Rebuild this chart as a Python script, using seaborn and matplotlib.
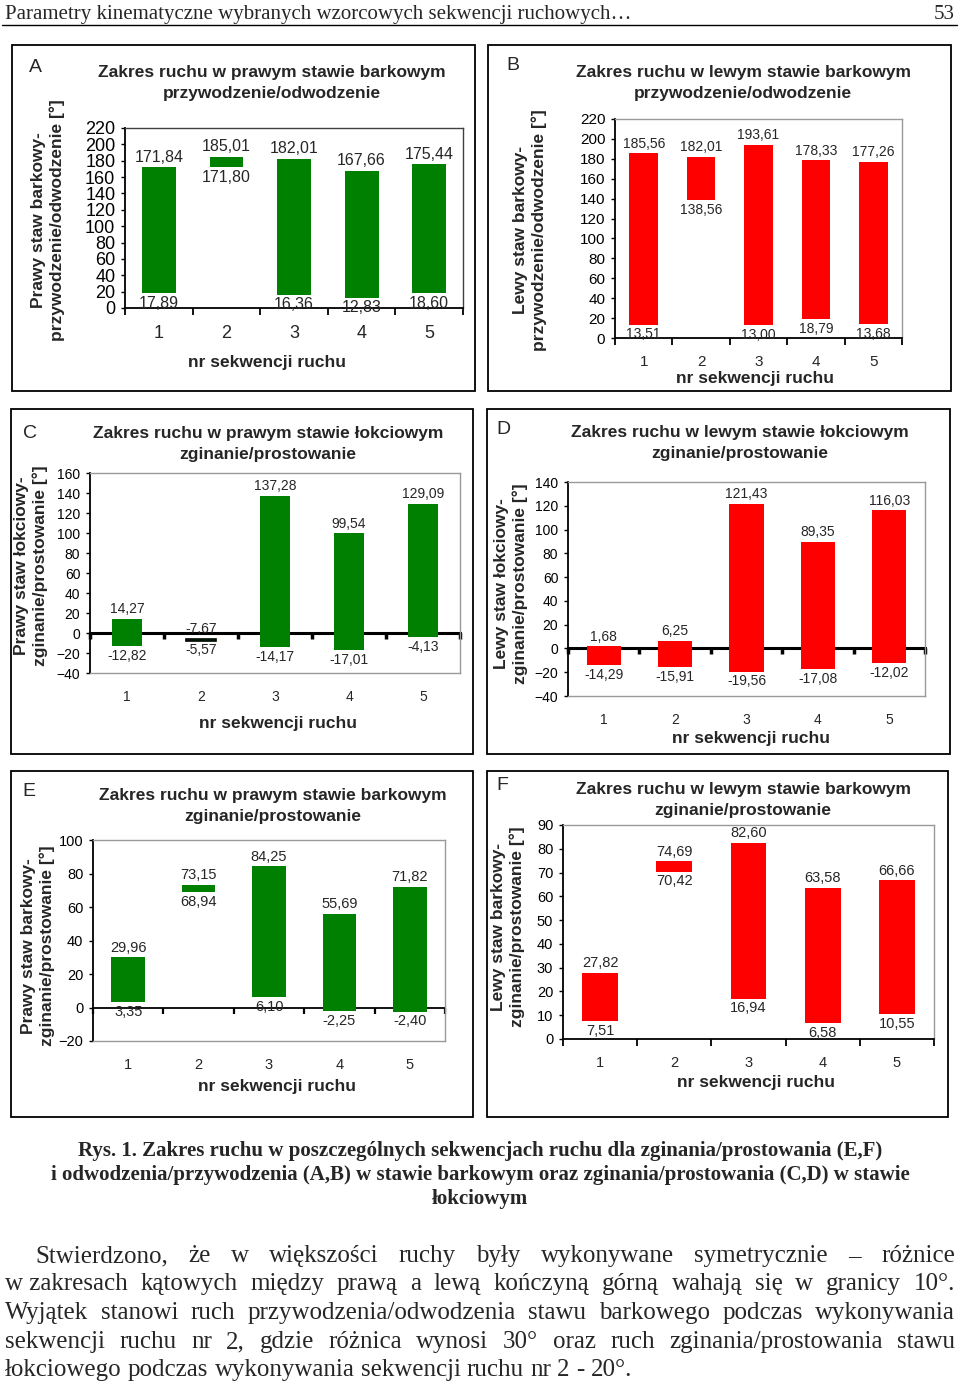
import numpy as np
import matplotlib
matplotlib.use("Agg")
import matplotlib.pyplot as plt
import seaborn as sns
from matplotlib.patches import Rectangle

# ---- data ----
seq = ["1", "2", "3", "4", "5"]

a_hi = [171.84, 185.01, 182.01, 167.66, 175.44]
a_lo = [17.89, 171.80, 16.36, 12.83, 18.60]
b_hi = [185.56, 182.01, 193.61, 178.33, 177.26]
b_lo = [13.51, 138.56, 13.00, 18.79, 13.68]
c_hi = [14.27, -7.67, 137.28, 99.54, 129.09]
c_lo = [-12.82, -5.57, -14.17, -17.01, -4.13]
d_hi = [1.68, 6.25, 121.43, 89.35, 116.03]
d_lo = [-14.29, -15.91, -19.56, -17.08, -12.02]
e_hi = [29.96, 73.15, 84.25, 55.69, 71.82]
e_lo = [3.35, 68.94, 6.10, -2.25, -2.40]
f_hi = [27.82, 74.69, 82.60, 63.58, 66.66]
f_lo = [7.51, 70.42, 16.94, 6.58, 10.55]

titles = {
    "A": "Zakres ruchu w prawym stawie barkowym\nprzywodzenie/odwodzenie",
    "B": "Zakres ruchu w lewym stawie barkowym\nprzywodzenie/odwodzenie",
    "C": "Zakres ruchu w prawym stawie łokciowym\nzginanie/prostowanie",
    "D": "Zakres ruchu w lewym stawie łokciowym\nzginanie/prostowanie",
    "E": "Zakres ruchu w prawym stawie barkowym\nzginanie/prostowanie",
    "F": "Zakres ruchu w lewym stawie barkowym\nzginanie/prostowanie",
}
ylabels = {
    "A": "Prawy staw barkowy-\nprzywodzenie/odwodzenie [°]",
    "B": "Lewy staw barkowy-\nprzywodzenie/odwodzenie [°]",
    "C": "Prawy staw łokciowy-\nzginanie/prostowanie [°]",
    "D": "Lewy staw łokciowy-\nzginanie/prostowanie [°]",
    "E": "Prawy staw barkowy-\nzginanie/prostowanie [°]",
    "F": "Lewy staw barkowy-\nzginanie/prostowanie [°]",
}
xlabel = "nr sekwencji ruchu"

header = "Parametry kinematyczne wybranych wzorcowych sekwencji ruchowych…"
page_no = "53"
caption = ["Rys. 1. Zakres ruchu w poszczególnych sekwencjach ruchu dla zginania/prostowania (E,F)",
           "i odwodzenia/przywodzenia (A,B) w stawie barkowym oraz zginania/prostowania (C,D) w stawie",
           "łokciowym"]
paragraph = ["Stwierdzono, że w większości ruchy były wykonywane symetrycznie – różnice",
             "w\u00a0zakresach kątowych między prawą a lewą kończyną górną wahają się w granicy 10°.",
             "Wyjątek stanowi ruch przywodzenia/odwodzenia stawu barkowego podczas wykonywania",
             "sekwencji ruchu nr 2, gdzie różnica wynosi 30° oraz ruch zginania/prostowania stawu",
             "łokciowego podczas wykonywania sekwencji ruchu nr 2 - 20°."]

GREEN = "#008000"
RED = "#ff0000"

# ---- layout (pixels on the 960x1384 page) ----
panels = [
    dict(key="A", hi=a_hi, lo=a_lo, color=GREEN, ylim=(0, 220), step=20, width=0.5,
         frame=(12, 45, 475, 391), axes=(125, 128, 463, 308), letter=(35, 68),
         title=(272, 83), xl=(267, 362), yl=(48, 220), tfs=13, vfs=11.5, box="#404040"),
    dict(key="B", hi=b_hi, lo=b_lo, color=RED, ylim=(0, 220), step=20, width=0.5,
         frame=(488, 45, 951, 391), axes=(615, 119, 902, 338), letter=(513, 66),
         title=(743, 83), xl=(755, 378), yl=(530, 230), tfs=11, vfs=10, box="#999999"),
    dict(key="C", hi=c_hi, lo=c_lo, color=GREEN, ylim=(-40, 160), step=20, width=0.4,
         frame=(11, 409, 473, 754), axes=(90, 473, 460, 673), letter=(30, 433),
         title=(268, 444), xl=(278, 723), yl=(31, 566), tfs=10, vfs=10, box="#999999"),
    dict(key="D", hi=d_hi, lo=d_lo, color=RED, ylim=(-40, 140), step=20, width=0.48,
         frame=(487, 409, 950, 754), axes=(568, 482, 925, 696), letter=(503, 430),
         title=(740, 443), xl=(751, 738), yl=(511, 584), tfs=10, vfs=10, box="#999999"),
    dict(key="E", hi=e_hi, lo=e_lo, color=GREEN, ylim=(-20, 100), step=20, width=0.48,
         frame=(11, 771, 473, 1117), axes=(93, 840, 445, 1041), letter=(29, 792),
         title=(273, 806), xl=(277, 1087), yl=(38, 946), tfs=10.5, vfs=10.5, box="#999999"),
    dict(key="F", hi=f_hi, lo=f_lo, color=RED, ylim=(0, 90), step=10, width=0.48,
         frame=(487, 771, 948, 1117), axes=(563, 825, 934, 1039), letter=(502, 785),
         title=(743, 800), xl=(756, 1083), yl=(508, 927), tfs=10.5, vfs=10.5, box="#999999"),
]

W, H = 960, 1384
sns.set_style("white")
plt.rcParams["font.family"] = ["Liberation Sans", "DejaVu Sans"]

fig = plt.figure(figsize=(W / 100, H / 100), dpi=100)
fig.patch.set_facecolor("white")


def fx(px):
    return px / W


def fy(py):
    return 1 - py / H


def fmt(v):
    return f"{v:.2f}".replace(".", ",")


for p in panels:
    x0, y0, x1, y1 = p["frame"]
    fig.add_artist(Rectangle((fx(x0), fy(y1)), (x1 - x0) / W, (y1 - y0) / H,
                             transform=fig.transFigure, fill=False, lw=1.3, ec="black"))
    ax0, ay0, ax1, ay1 = p["axes"]
    ax = fig.add_axes([fx(ax0), fy(ay1), (ax1 - ax0) / W, (ay1 - ay0) / H])

    hi = np.array(p["hi"])
    lo = np.array(p["lo"])
    sns.barplot(x=seq, y=hi - lo, bottom=lo, order=seq, color=p["color"], saturation=1,
                width=p["width"], errorbar=None, ax=ax, linewidth=0)
    if p["key"] == "C":
        ax.patches[1].set_edgecolor("black")
        ax.patches[1].set_linewidth(1.2)

    ymin, ymax = p["ylim"]
    ax.set_ylim(ymin, ymax)
    ax.set_xlim(-0.5, 4.5)
    ax.set_yticks(np.arange(ymin, ymax + 1, p["step"]))
    ax.tick_params(axis="y", direction="out", length=3, width=1, pad=4,
                   labelsize=p["tfs"], colors="black", left=True)
    ax.set_xticks(range(5))
    ax.set_xticklabels(seq)
    ax.set_xticks(np.arange(6) - 0.5, minor=True)
    ax.tick_params(axis="x", which="major", length=0, pad=12, labelsize=p["tfs"])

    for s in ("top", "right"):
        ax.spines[s].set_color(p["box"])
        ax.spines[s].set_linewidth(1)
    ax.spines["left"].set_color("black")
    ax.spines["left"].set_linewidth(1.3)

    if ymin < 0:
        ax.spines["bottom"].set_color(p["box"])
        ax.spines["bottom"].set_linewidth(1)
        ax.tick_params(axis="x", which="minor", length=0)
        sec = ax.secondary_xaxis((0 - ymin) / (ymax - ymin))
        sec.set_xticks(np.arange(6) - 0.5)
        sec.set_xticklabels([])
        lw = 1.3 if p["key"] == "E" else 2.2
        sec.spines["bottom"].set_linewidth(lw)
        sec.spines["bottom"].set_color("black")
        sec.tick_params(axis="x", direction="out", length=4, width=lw + 0.3, color="black")
    else:
        ax.spines["bottom"].set_color("black")
        ax.spines["bottom"].set_linewidth(1.3)
        ax.tick_params(axis="x", which="minor", direction="out", length=5, width=1.3,
                       color="black", bottom=True)

    # value labels above/below each floating bar
    for i in range(5):
        top, bot = max(hi[i], lo[i]), min(hi[i], lo[i])
        ax.annotate(fmt(hi[i]), (i, top), xytext=(0, 2), textcoords="offset points",
                    ha="center", va="bottom", fontsize=p["vfs"])
        ax.annotate(fmt(lo[i]), (i, bot), xytext=(0, -2), textcoords="offset points",
                    ha="center", va="top", fontsize=p["vfs"])

    ax.set_xlabel(xlabel, fontsize=12.5, fontweight="bold", va="center")
    ax.xaxis.set_label_coords((p["xl"][0] - ax0) / (ax1 - ax0), (ay1 - p["xl"][1]) / (ay1 - ay0))
    ax.set_ylabel(ylabels[p["key"]], fontsize=12.5, fontweight="bold", va="center",
                  linespacing=1.3)
    ax.yaxis.set_label_coords((p["yl"][0] - ax0) / (ax1 - ax0), (ay1 - p["yl"][1]) / (ay1 - ay0))

    fig.text(fx(p["title"][0]), fy(p["title"][1]), titles[p["key"]], ha="center", va="center",
             fontsize=12.5, fontweight="bold", linespacing=1.45, multialignment="center")
    fig.text(fx(p["letter"][0]), fy(p["letter"][1]), p["key"], ha="center", va="center",
             fontsize=14)

# ---- page text ----
serif = ["Liberation Serif", "DejaVu Serif"]
fig.text(fx(5), fy(19), header, family=serif, fontsize=15, ha="left", va="baseline")
fig.text(fx(955), fy(19), page_no, family=serif, fontsize=15, ha="right", va="baseline")
fig.add_artist(plt.Line2D([fx(2), fx(957)], [fy(25), fy(25)], transform=fig.transFigure,
                          color="black", lw=1))

for line, yb in zip(caption, [1156, 1180, 1204]):
    fig.text(0.5, fy(yb), line, family=serif, fontsize=15, fontweight="bold",
             ha="center", va="baseline")

renderer = fig.canvas.get_renderer()


def text_width(s, **kw):
    t = fig.text(0, 0, s, **kw)
    w = t.get_window_extent(renderer).width
    t.remove()
    return w


pkw = dict(family=serif, fontsize=18, va="baseline", ha="left")
space = text_width("a a", **pkw) - text_width("aa", **pkw)
for k, (line, yb) in enumerate(zip(paragraph, [1262, 1290, 1319, 1348, 1376])):
    left = 35 if k == 0 else 5
    right = 955
    words = line.split(" ")
    ts = [fig.text(0, fy(yb), w, **pkw) for w in words]
    ws = [t.get_window_extent(renderer).width for t in ts]
    if k == len(paragraph) - 1:
        gap = space
    else:
        gap = (right - left - sum(ws)) / (len(words) - 1)
    x = left
    for t, w in zip(ts, ws):
        t.set_x(fx(x))
        x += w + gap

fig.savefig("out.png", dpi=100, facecolor="white")
